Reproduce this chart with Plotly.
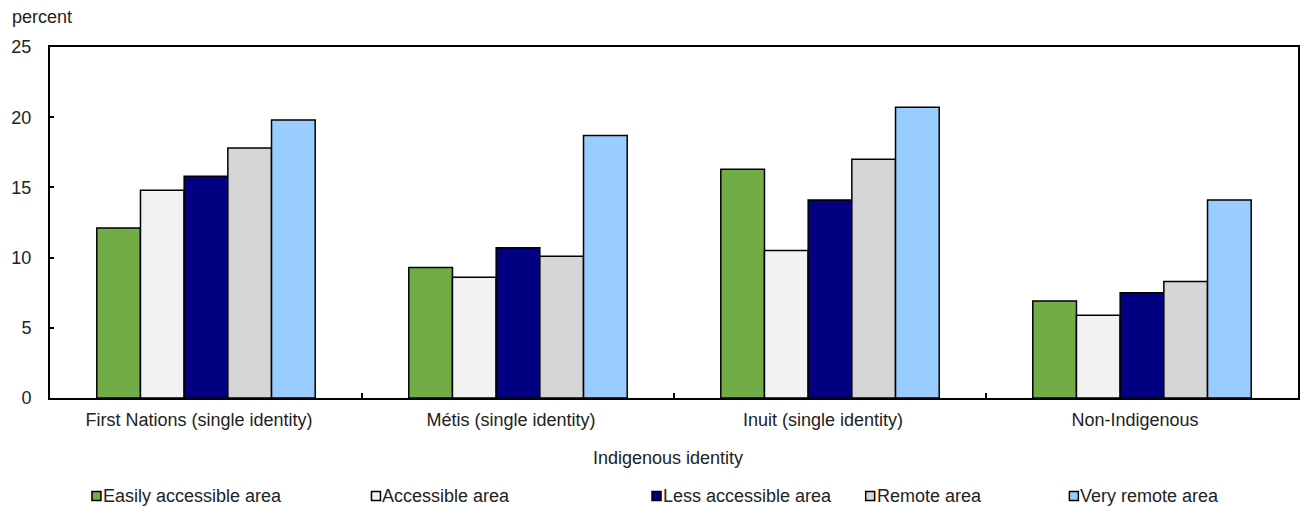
import plotly.graph_objects as go

# Share of population (percent) by Indigenous identity and remoteness of area
categories = [
    "First Nations (single identity)",
    "Métis (single identity)",
    "Inuit (single identity)",
    "Non-Indigenous",
]
series_names = [
    "Easily accessible area",
    "Accessible area",
    "Less accessible area",
    "Remote area",
    "Very remote area",
]
easily_accessible = [12.1, 9.3, 16.3, 6.9]
accessible = [14.8, 8.6, 10.5, 5.9]
less_accessible = [15.8, 10.7, 14.1, 7.5]
remote = [17.8, 10.1, 17.0, 8.3]
very_remote = [19.8, 18.7, 20.7, 14.1]
y_ticks = [0, 5, 10, 15, 20, 25]

series_values = [easily_accessible, accessible, less_accessible, remote, very_remote]
colors = ["#70AD47", "#F2F2F2", "#000080", "#D6D6D6", "#99CCFF"]

FONT = "Liberation Sans, Arial, sans-serif"
FSIZE = 18
TEXT = "#222222"

# plot area geometry in pixels (for the hand-placed legend)
W, H = 1302, 507
L, R, T, B = 50, 2, 47, 109
pw, ph = W - L - R, H - T - B

fig = go.Figure()
for name, vals, col in zip(series_names, series_values, colors):
    fig.add_trace(go.Bar(
        x=categories, y=vals, name=name,
        marker=dict(color=col, line=dict(color="#000000", width=1.5)),
        showlegend=False,
    ))

# legend: small outlined squares followed by the series name
legend_x = [92, 372, 653, 867, 1071]
legend_y = 496
shapes = []
annotations = []
for name, col, lx in zip(series_names, colors, legend_x):
    x0 = (lx - L) / pw
    x1 = (lx + 9 - L) / pw
    y0 = (H - B - (legend_y + 4.5)) / ph
    y1 = (H - B - (legend_y - 4.5)) / ph
    shapes.append(dict(type="rect", xref="paper", yref="paper",
                       x0=x0, x1=x1, y0=y0, y1=y1,
                       fillcolor=col, line=dict(color="#000000", width=1.5)))
    annotations.append(dict(xref="paper", yref="paper",
                            x=(lx + 9 - L) / pw,
                            y=(H - B - legend_y) / ph,
                            xanchor="left", yanchor="middle",
                            text=name, showarrow=False,
                            font=dict(family=FONT, size=FSIZE, color=TEXT)))

# unit label above the value axis
annotations.append(dict(xref="paper", yref="paper",
                        x=(10 - L) / pw, y=(H - B - 17) / ph,
                        xanchor="left", yanchor="middle",
                        text="percent", showarrow=False,
                        font=dict(family=FONT, size=FSIZE, color=TEXT)))

# category axis title, centred under the plot
annotations.append(dict(xref="paper", yref="paper",
                        x=(669 - L) / pw, y=(H - B - 458) / ph,
                        xanchor="center", yanchor="middle",
                        text="Indigenous identity", showarrow=False,
                        font=dict(family=FONT, size=FSIZE, color=TEXT)))

fig.update_layout(
    width=W, height=H,
    margin=dict(l=L, r=R, t=T, b=B),
    paper_bgcolor="white", plot_bgcolor="white",
    barmode="group", bargap=0.3, bargroupgap=0,
    font=dict(family=FONT, size=FSIZE, color=TEXT),
    shapes=shapes, annotations=annotations,
    xaxis=dict(
        showline=True, linecolor="#000000", linewidth=2, mirror=True,
        ticks="inside", tickson="boundaries", ticklen=5, tickwidth=2,
        tickcolor="#000000", showgrid=False,
        ticklabelstandoff=4, ticklabelshift=-7,
        tickfont=dict(family=FONT, size=FSIZE, color=TEXT),
    ),
    yaxis=dict(
        range=[0, 25], tickvals=y_ticks,
        showline=True, linecolor="#000000", linewidth=2, mirror=True,
        ticks="inside", ticklen=4, tickwidth=2, tickcolor="#000000",
        showgrid=False, zeroline=False,
        ticklabelstandoff=13,
        tickfont=dict(family=FONT, size=FSIZE, color=TEXT),
    ),
)

fig.write_html("out.html")
